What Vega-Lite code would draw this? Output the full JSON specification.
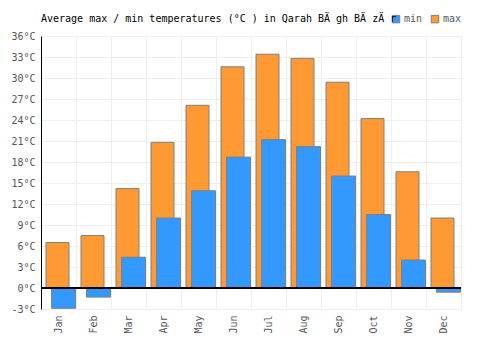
{
  "$schema": "https://vega.github.io/schema/vega-lite/v6.json",
  "width": 420,
  "height": 273,
  "autosize": "none",
  "padding": {"left": 41, "top": 36, "right": 39, "bottom": 41},
  "background": "white",
  "title": {
    "text": "Average max / min temperatures (°C ) in Qarah BÄ gh BÄ zÄ r",
    "anchor": "start",
    "frame": "group",
    "font": "DejaVu Sans Mono",
    "fontSize": 10,
    "fontWeight": "normal",
    "color": "#000000",
    "offset": -10
  },
  "config": {
    "view": {"stroke": null},
    "font": "DejaVu Sans Mono"
  },
  "data": {
    "values": [
      {"month": "Jan", "series": "max", "temp": 6.5},
      {"month": "Feb", "series": "max", "temp": 7.5},
      {"month": "Mar", "series": "max", "temp": 14.2},
      {"month": "Apr", "series": "max", "temp": 20.8},
      {"month": "May", "series": "max", "temp": 26.1},
      {"month": "Jun", "series": "max", "temp": 31.6},
      {"month": "Jul", "series": "max", "temp": 33.4},
      {"month": "Aug", "series": "max", "temp": 32.8},
      {"month": "Sep", "series": "max", "temp": 29.4},
      {"month": "Oct", "series": "max", "temp": 24.2},
      {"month": "Nov", "series": "max", "temp": 16.6},
      {"month": "Dec", "series": "max", "temp": 10.0},
      {"month": "Jan", "series": "min", "temp": -2.9},
      {"month": "Feb", "series": "min", "temp": -1.3},
      {"month": "Mar", "series": "min", "temp": 4.4},
      {"month": "Apr", "series": "min", "temp": 10.0},
      {"month": "May", "series": "min", "temp": 13.9},
      {"month": "Jun", "series": "min", "temp": 18.7},
      {"month": "Jul", "series": "min", "temp": 21.2},
      {"month": "Aug", "series": "min", "temp": 20.2},
      {"month": "Sep", "series": "min", "temp": 16.0},
      {"month": "Oct", "series": "min", "temp": 10.5},
      {"month": "Nov", "series": "min", "temp": 4.0},
      {"month": "Dec", "series": "min", "temp": -0.6}
    ]
  },
  "encoding": {
    "x": {
      "field": "month",
      "type": "nominal",
      "sort": ["Jan","Feb","Mar","Apr","May","Jun","Jul","Aug","Sep","Oct","Nov","Dec"],
      "scale": {"paddingInner": 0, "paddingOuter": 0},
      "axis": {
        "title": null,
        "labelAngle": 270,
        "labelAlign": "right",
        "labelBaseline": "middle",
        "labelFont": "DejaVu Sans Mono",
        "labelFontSize": 10,
        "labelColor": "#555555",
        "labelPadding": 6,
        "ticks": false,
        "domain": false,
        "grid": true,
        "gridColor": "#eeeeee",
        "gridWidth": 1,
        "tickBand": "extent"
      }
    },
    "y": {
      "field": "temp",
      "type": "quantitative",
      "scale": {"domain": [-3, 36], "nice": false, "zero": false},
      "axis": {
        "title": null,
        "values": [-3, 0, 3, 6, 9, 12, 15, 18, 21, 24, 27, 30, 33, 36],
        "labelExpr": "datum.value + '°C'",
        "labelFont": "DejaVu Sans Mono",
        "labelFontSize": 10,
        "labelColor": "#555555",
        "labelPadding": 6,
        "ticks": false,
        "domain": true,
        "domainColor": "#000000",
        "domainWidth": 1,
        "grid": true,
        "gridColor": "#eeeeee",
        "gridWidth": 1
      }
    }
  },
  "layer": [
    {
      "transform": [{"filter": "datum.series == 'max'"}],
      "mark": {"type": "bar", "width": 23, "xOffset": -1, "stroke": "#808080", "strokeWidth": 1},
      "encoding": {
        "color": {
          "field": "series",
          "type": "nominal",
          "scale": {"domain": ["min", "max"], "range": ["#3399ff", "#ff9933"]},
          "legend": {
            "title": null,
            "orient": "none",
            "direction": "horizontal",
            "legendX": 350,
            "legendY": -22,
            "symbolType": "square",
            "symbolSize": 56,
            "symbolStrokeColor": "#808080",
            "symbolStrokeWidth": 1,
            "symbolOpacity": 1,
            "labelFont": "DejaVu Sans Mono",
            "labelFontSize": 10,
            "labelColor": "#555555",
            "labelOffset": 3,
            "columnPadding": 6
          }
        }
      }
    },
    {
      "transform": [{"filter": "datum.series == 'min'"}],
      "mark": {"type": "bar", "width": 24, "xOffset": 5, "stroke": "#808080", "strokeWidth": 1},
      "encoding": {
        "color": {"field": "series", "type": "nominal"}
      }
    },
    {
      "mark": {"type": "rule", "color": "#000000", "strokeWidth": 1},
      "encoding": {"y": {"datum": 0}, "x": {"value": 0}, "x2": {"value": 420}}
    }
  ]
}
